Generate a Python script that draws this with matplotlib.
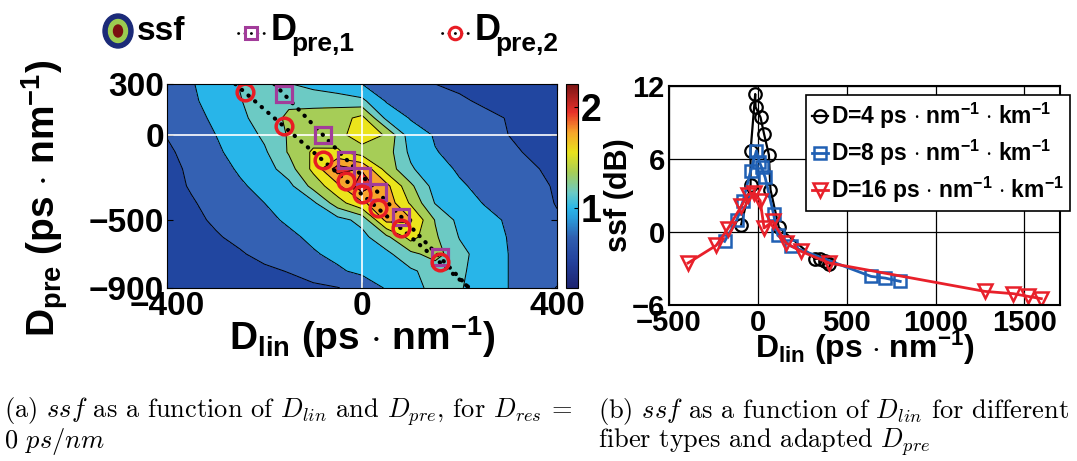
import numpy as np
import matplotlib
matplotlib.use('Agg')
import matplotlib.pyplot as plt
from matplotlib.colors import LinearSegmentedColormap, Normalize
from matplotlib.patches import Ellipse
import matplotlib.cm as cm

plt.rcParams['font.family'] = 'Liberation Sans'
plt.rcParams['font.weight'] = 'bold'
plt.rcParams['axes.labelweight'] = 'bold'
plt.rcParams['mathtext.fontset'] = 'custom'
plt.rcParams['mathtext.rm'] = 'Liberation Sans:bold'
plt.rcParams['mathtext.it'] = 'Liberation Sans:bold:italic'
plt.rcParams['mathtext.bf'] = 'Liberation Sans:bold'

# (a) ssf map (dB), rows = D_pre, columns = D_lin
d_lin = [-400, -350, -300, -250, -200, -150, -100, -50, 0, 50, 100, 150, 200, 250, 300, 350, 400]
d_pre = [300, 200, 100, 0, -100, -200, -300, -400, -500, -600, -700, -800, -900]
ssf_map = [
    [0.62, 0.73, 0.87, 1.01, 1.08, 1.01, 0.93, 0.84, 0.75, 0.67, 0.59, 0.50, 0.46, 0.42, 0.38, 0.34, 0.30],
    [0.58, 0.71, 0.84, 0.99, 1.10, 1.17, 1.14, 1.13, 1.06, 0.73, 0.66, 0.59, 0.53, 0.47, 0.42, 0.38, 0.33],
    [0.52, 0.66, 0.80, 0.94, 1.12, 1.23, 1.28, 1.31, 1.46, 0.95, 0.73, 0.67, 0.61, 0.55, 0.49, 0.42, 0.35],
    [0.51, 0.63, 0.75, 0.88, 1.04, 1.22, 1.30, 1.33, 1.52, 1.38, 0.88, 0.73, 0.65, 0.57, 0.50, 0.44, 0.38],
    [0.46, 0.58, 0.71, 0.84, 0.97, 1.22, 1.43, 1.42, 1.30, 1.30, 0.95, 0.76, 0.69, 0.61, 0.54, 0.47, 0.40],
    [0.43, 0.54, 0.66, 0.78, 0.90, 1.11, 1.45, 1.90, 1.78, 1.32, 1.03, 0.84, 0.72, 0.65, 0.58, 0.52, 0.45],
    [0.42, 0.52, 0.62, 0.72, 0.82, 0.94, 1.27, 1.55, 1.92, 1.66, 1.24, 0.92, 0.78, 0.69, 0.62, 0.55, 0.48],
    [0.40, 0.48, 0.57, 0.66, 0.75, 0.86, 0.96, 1.31, 1.57, 1.73, 1.37, 0.99, 0.87, 0.74, 0.66, 0.57, 0.49],
    [0.38, 0.45, 0.53, 0.61, 0.70, 0.78, 0.85, 0.93, 1.06, 1.66, 1.62, 1.19, 0.94, 0.83, 0.72, 0.62, 0.52],
    [0.37, 0.43, 0.48, 0.55, 0.63, 0.71, 0.79, 0.86, 0.94, 1.15, 1.48, 1.23, 0.99, 0.87, 0.74, 0.66, 0.58],
    [0.32, 0.38, 0.43, 0.48, 0.56, 0.64, 0.73, 0.80, 0.88, 0.95, 1.15, 1.28, 1.06, 0.91, 0.75, 0.68, 0.60],
    [0.28, 0.32, 0.37, 0.41, 0.46, 0.51, 0.61, 0.72, 0.80, 0.89, 0.97, 1.08, 1.04, 0.90, 0.75, 0.67, 0.58],
    [0.25, 0.28, 0.32, 0.35, 0.39, 0.42, 0.45, 0.49, 0.60, 0.77, 0.94, 1.05, 1.02, 0.89, 0.75, 0.62, 0.49],
]

# optimum pre-compensation points
pre1_lin = [-160, -80, -32, 0, 32, 80, 160]
pre1_val = [240, 0, -147, -241, -337, -480, -716]
pre2_lin = [-240, -160, -80, -32, 0, 32, 80, 160]
pre2_val = [253, 53, -149, -270, -349, -427, -549, -749]
fit1_lin = [-180, 220]
fit1_val = [300, -900]
fit2_lin = [-260, 220]
fit2_val = [300, -900]

# (b) ssf vs D_lin for three fibre types
d4_lin = [-94, -41, -41, -15, -13, 15, 35, 62, 71, 118, 322, 350, 375, 402]
d4_ssf = [0.6, 3.83, 6.68, 11.34, 10.27, 9.42, 8.05, 6.35, 3.48, 0.38, -2.2, -2.2, -2.4, -2.6]
d8_lin = [-187, -118, -84, -41, -8, 9, 21, 41, 88, 112, 189, 637, 717, 801]
d8_ssf = [-0.77, 1.01, 2.52, 4.98, 6.68, 5.75, 5.31, 4.49, 1.5, -0.28, -1.18, -3.65, -3.79, -4.06]
d16_lin = [-393, -234, -169, -94, -56, -19, 13, 35, 84, 159, 243, 402, 1277, 1438, 1520, 1595]
d16_ssf = [-2.55, -1.1, 0.27, 2.1, 3.07, 3.2, 2.57, 0.33, 0.87, -0.91, -1.59, -2.55, -4.88, -5.07, -5.29, -5.48]

levels = [0, 0.5, 0.75, 1.0, 1.2, 1.4, 1.6, 1.8, 2.0, 3.0]
band_colors = ['#2146a0', '#3461b3', '#28b5e9', '#6ccac4', '#a6cd57',
               '#ebe41b', '#f7a52b', '#e8312a', '#a01818']
cb_min, cb_max = 0.2, 2.23
cb_stops = [(0.2, '#1d2470'), (0.45, '#23409b'), (0.7, '#2f5fb0'), (0.9, '#2a9fdc'),
            (1.0, '#2bb7e8'), (1.15, '#6ccac4'), (1.35, '#a6cd57'), (1.55, '#e8e21c'),
            (1.75, '#f6a52b'), (1.95, '#e8312a'), (2.23, '#7a1515')]
cmap = LinearSegmentedColormap.from_list(
    'muted_jet', [((v - cb_min) / (cb_max - cb_min), c) for v, c in cb_stops])

W, H = 1077, 461
fig = plt.figure(figsize=(W / 100, H / 100), dpi=100)


def px_axes(x0, y0, x1, y1):
    return fig.add_axes([x0 / W, 1 - y1 / H, (x1 - x0) / W, (y1 - y0) / H])


dots = (0, (0.1, 2.0))

# ---------- (a) contour map ----------
ax = px_axes(167, 84, 557, 288)
X, Y = np.meshgrid(d_lin, d_pre)
Z = np.array(ssf_map)
ax.contourf(X, Y, Z, levels=levels, colors=band_colors)
ax.contour(X, Y, Z, levels=levels[1:8], colors='k', linewidths=0.7)
ax.axvline(0, color='white', lw=1.2)
ax.axhline(0, color='white', lw=1.2)
ax.plot(fit1_lin, fit1_val, color='k', lw=3, linestyle=dots, dash_capstyle='round')
ax.plot(fit2_lin, fit2_val, color='k', lw=3, linestyle=dots, dash_capstyle='round')
ax.plot(pre1_lin, pre1_val, 's', ms=11, mfc='none', mec='#a23c9a', mew=2.3)
ax.plot(pre2_lin, pre2_val, 'o', ms=12, mfc='none', mec='#e81c24', mew=2.5)
ax.set_xlim(-400, 400)
ax.set_ylim(-900, 300)
ax.set_xticks([-400, 0, 400])
ax.set_yticks([300, 0, -500, -900])
ax.tick_params(direction='in', length=4, labelsize=24, top=True, right=True, pad=2)
ax.set_xlabel(r'$\mathrm{D_{lin}}$ (ps $\cdot$ nm$^{\mathrm{-1}}$)', fontsize=28)
ax.xaxis.set_label_coords(0.5, -0.13)
ax.set_ylabel(r'$\mathrm{D_{pre}}$ (ps $\cdot$ nm$^{\mathrm{-1}}$)', fontsize=28)
ax.yaxis.set_label_coords(-0.25, 0.44)

cax = px_axes(566, 84, 578, 288)
sm = cm.ScalarMappable(norm=Normalize(cb_min, cb_max), cmap=cmap)
cb = fig.colorbar(sm, cax=cax, ticks=[1, 2])
cb.ax.tick_params(direction='in', length=3, labelsize=27, pad=2)

# ---------- (b) ssf vs D_lin ----------
bx = px_axes(669, 86, 1060, 305)
bx.plot(d4_lin, d4_ssf, '-o', color='k', lw=1.6, ms=9, mfc='none', mew=1.6,
        label=r'D=4 ps $\cdot$ nm$^{\mathrm{-1}}$ $\cdot$ km$^{\mathrm{-1}}$')
bx.plot(d8_lin, d8_ssf, '-s', color='#2060b4', lw=2, ms=8.5, mfc='none', mew=1.8,
        label=r'D=8 ps $\cdot$ nm$^{\mathrm{-1}}$ $\cdot$ km$^{\mathrm{-1}}$')
bx.plot(d16_lin, d16_ssf, '-v', color='#e8202a', lw=2, ms=10, mfc='none', mew=1.8,
        label=r'D=16 ps $\cdot$ nm$^{\mathrm{-1}}$ $\cdot$ km$^{\mathrm{-1}}$')
bx.set_xlim(-500, 1700)
bx.set_ylim(-6, 12)
bx.set_xticks([-500, 0, 500, 1000, 1500])
bx.set_yticks([-6, 0, 6, 12])
bx.grid(True, color='k', lw=0.9)
bx.tick_params(direction='in', length=0, labelsize=21, pad=3)
for s in bx.spines.values():
    s.set_linewidth(1.5)
bx.set_xlabel(r'$\mathrm{D_{lin}}$ (ps $\cdot$ nm$^{\mathrm{-1}}$)', fontsize=23)
bx.xaxis.set_label_coords(0.5, -0.11)
bx.set_ylabel('ssf (dB)', fontsize=22)
bx.yaxis.set_label_coords(-0.09, 0.5)
leg = bx.legend(loc='upper right', bbox_to_anchor=(1.026, 0.96), borderaxespad=0,
                fontsize=16.5, handlelength=0.7, handletextpad=0.15, labelspacing=0.3,
                borderpad=0.25, fancybox=False, framealpha=1, edgecolor='k')
leg.get_frame().set_linewidth(1.2)

# ---------- top legend and captions ----------
ov = fig.add_axes([0, 0, 1, 1])
ov.set_xlim(0, W)
ov.set_ylim(H, 0)
ov.axis('off')
ov.add_patch(Ellipse((118, 31), 30, 34, color='#1b2a78'))
ov.add_patch(Ellipse((118, 31), 19, 23, color='#9ccc50'))
ov.add_patch(Ellipse((118, 31), 9, 12, color='#7a1010'))
ov.text(137, 31, 'ssf', fontsize=24, va='center')
for cx, mk, col, sub in [(251, 's', '#a23c9a', 'pre,1'), (455, 'o', '#e81c24', 'pre,2')]:
    ov.plot([cx - 13, cx + 13], [33, 33], color='k', lw=2, linestyle=(0, (0.1, 2.2)),
            dash_capstyle='round')
    ov.plot([cx], [33], mk, ms=9, mfc='none', mec=col, mew=2.2)
    ov.text(cx + 20, 40, 'D', fontsize=26, va='baseline')
    ov.text(cx + 40, 51, sub, fontsize=19, va='baseline')

cap = dict(fontsize=19, fontfamily='cmr10', fontweight='normal', math_fontfamily='cm',
           va='baseline')
ov.text(4, 418, r'(a) $ssf$ as a function of $D_{lin}$ and $D_{pre}$, for $D_{res}$ =', **cap)
ov.text(4, 448, r'0 $ps/nm$', **cap)
ov.text(598, 418, r'(b) $ssf$ as a function of $D_{lin}$ for different', **cap)
ov.text(598, 448, r'fiber types and adapted $D_{pre}$', **cap)

fig.savefig('out.png', dpi=100)
